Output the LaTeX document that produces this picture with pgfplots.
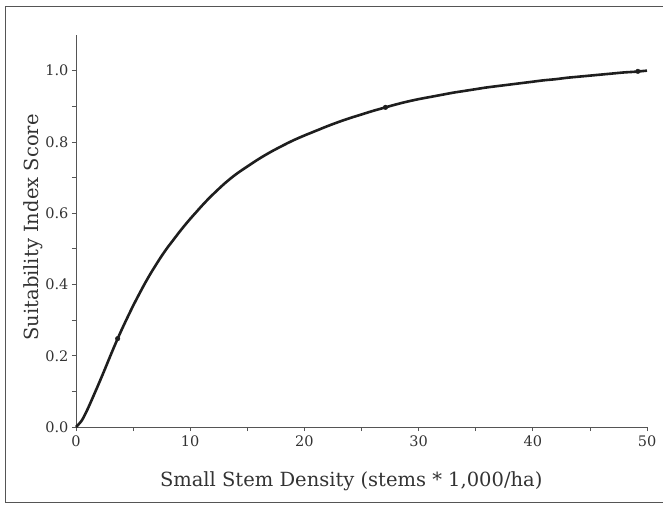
\documentclass[border=0pt]{standalone}
\usepackage{pgfplots}
\pgfplotsset{compat=1.18}
\usepackage{fontspec}
\setmainfont{DejaVu Serif}
\definecolor{axisgray}{HTML}{555555}
\definecolor{txtgray}{HTML}{333333}
\definecolor{curve}{HTML}{1E1E1E}
\begin{document}
\begin{tikzpicture}[x=1pt,y=1pt]
\useasboundingbox (0,0) rectangle (663,504);
\draw[line width=1pt, axisgray] (663,497) -- (5.5,497) -- (5.5,1.5) -- (663,1.5);
\begin{axis}[
  at={(76pt,77pt)}, anchor=south west,
  scale only axis, width=571pt, height=392pt,
  xmin=0, xmax=50, ymin=0, ymax=1.1,
  axis lines=left,
  axis line style={-, axisgray, line width=0.8pt},
  xtick={0,10,20,30,40,50}, minor xtick={5,15,25,35,45},
  ytick={0,0.2,0.4,0.6,0.8,1.0}, minor ytick={0.1,0.3,0.5,0.7,0.9},
  tick align=outside, major tick length=4pt, minor tick length=4pt,
  tick style={axisgray, line width=0.7pt},
  yticklabel style={/pgf/number format/fixed, /pgf/number format/fixed zerofill, /pgf/number format/precision=1},
  /pgf/number format/assume math mode=true,
  ticklabel style={font=\fontsize{14.5}{16}\selectfont, text=txtgray},
  xticklabel style={yshift=-1pt},
  xlabel={Small Stem Density (stems * 1,000/ha)},
  ylabel={Suitability Index Score},
  label style={font=\fontsize{19.5}{22}\selectfont, text=txtgray},
  xlabel style={at={(axis cs:24.1,0)}, anchor=base, yshift=-59pt},
  ylabel style={at={(rel axis cs:-0.0665,0.509)}, anchor=base},
  clip=false,
]
\addplot[curve, line width=2.6pt, smooth, tension=0.5] coordinates {
(0,0) (0.5,0.018) (1,0.049) (1.5,0.085) (2,0.122) (2.5,0.16) (3,0.199)
(3.5,0.237) (4,0.273) (4.5,0.307) (5,0.34) (5.5,0.371) (6,0.401)
(6.5,0.429) (7,0.455) (7.5,0.48) (8,0.503) (8.5,0.524) (9,0.545)
(9.5,0.565) (10,0.584) (10.5,0.602) (11,0.620) (11.5,0.637) (12,0.653)
(13,0.683) (14,0.709) (15,0.731) (16,0.752)
(17,0.771) (18,0.788) (19,0.804) (20,0.818) (21,0.831) (22,0.844)
(23,0.856) (24,0.867) (25,0.877) (26,0.887) (27,0.896) (28,0.905)
(29,0.913) (30,0.920) (31,0.926) (32,0.932) (33,0.938) (34,0.943)
(35,0.948) (36,0.953) (37,0.957) (38,0.961) (39,0.965) (40,0.969)
(41,0.973) (42,0.976) (43,0.980) (44,0.983) (45,0.986) (46,0.989)
(47,0.992) (48,0.995) (49,0.997) (50,1.0)
};
\addplot[only marks, mark=*, mark size=2.3pt, curve] coordinates {
(3.65,0.248) (27.1,0.897) (49.2,0.998)
};
\end{axis}
\end{tikzpicture}
\end{document}
